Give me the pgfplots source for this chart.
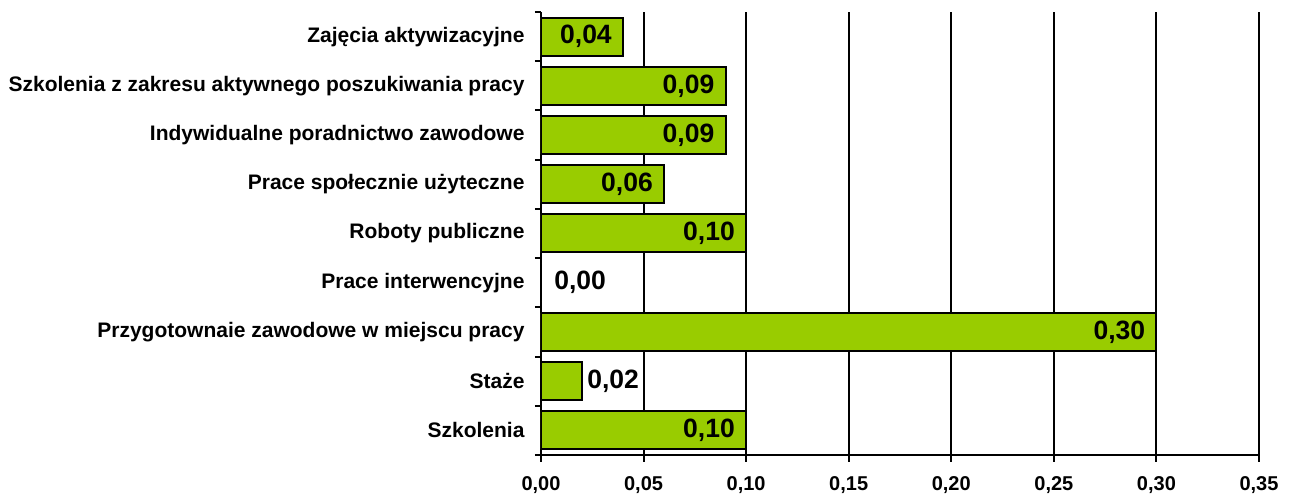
\documentclass[border=0pt]{standalone}
\usepackage{fontspec}
\setmainfont{Liberation Sans}
\usepackage{pgfplots}
\pgfplotsset{compat=1.18}
\definecolor{barg}{HTML}{99CC00}

\begin{document}
\begin{tikzpicture}
\begin{axis}[
  at={(0,0)}, anchor=south west,
  xbar, bar width=38bp, bar shift=0pt,
  scale only axis, width=718bp, height=443bp,
  xmin=0, xmax=0.35, ymin=-0.5, ymax=8.5,
  axis lines*=left, axis line style={line width=2bp},
  xtick={0,0.05,...,0.35},
  xmajorgrids, major grid style={black, line width=2bp},
  ytick={0,...,8},
  yticklabels={Szkolenia, Staże, Przygotownaie zawodowe w miejscu pracy, Prace interwencyjne,
    Roboty publiczne, Prace społecznie użyteczne, Indywidualne poradnictwo zawodowe,
    Szkolenia z zakresu aktywnego poszukiwania pracy, Zajęcia aktywizacyjne},
  minor ytick={-0.5,0.5,...,8.5},
  major y tick style={draw=none},
  tick align=outside, major tick length=7bp, minor tick length=6bp,
  every tick/.style={black, line width=2bp},
  /pgf/number format/.cd, fixed, fixed zerofill, precision=2, use comma, assume math mode=true,
  /pgfplots/.cd,
  xticklabel style={font=\fontsize{20bp}{24bp}\selectfont\bfseries, yshift=-11bp},
  yticklabel style={font=\fontsize{21bp}{25bp}\selectfont\bfseries, xshift=-6bp},
  nodes near coords,
  every node near coord/.append style={font=\fontsize{26.5bp}{30bp}\selectfont\bfseries},
]
\addplot[fill=barg, draw=black, line width=2bp,
  every node near coord/.append style={anchor=east, xshift=-7bp}]
  coordinates {(0.10,0) (0.30,2) (0.10,4) (0.06,5) (0.09,6) (0.09,7) (0.04,8)};
\addplot[fill=barg, draw=black, line width=2bp,
  every node near coord/.append style={anchor=west, xshift=1bp}]
  coordinates {(0.02,1)};
\addplot[fill=barg, draw=black, line width=2bp,
  every node near coord/.append style={anchor=west, xshift=9bp}]
  coordinates {(0.00,3)};
\end{axis}
\pgfresetboundingbox
\path (-541bp,-42bp) rectangle (754bp,455bp);
\end{tikzpicture}
\end{document}
